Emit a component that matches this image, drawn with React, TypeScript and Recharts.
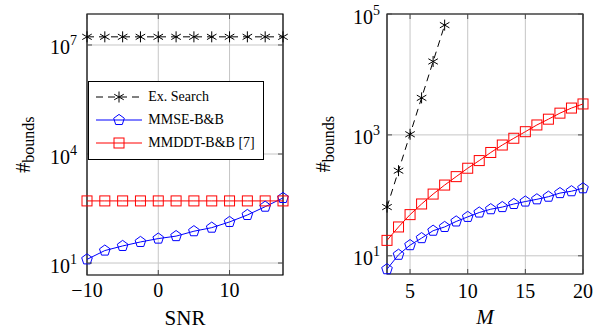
import React from 'react';
import { LineChart, Line, XAxis, YAxis, CartesianGrid, ReferenceArea, Legend } from 'recharts';

// ---- Data: left panel (vs SNR) ----
const snrValues = [-10, -7.5, -5, -2.5, 0, 2.5, 5, 7.5, 10, 12.5, 15, 17.5];
const snrExSearch = [16777216, 16777216, 16777216, 16777216, 16777216, 16777216, 16777216, 16777216, 16777216, 16777216, 16777216, 16777216];
const snrMmse = [12.6, 22, 29.5, 38, 47, 55, 75, 94, 135, 210, 355, 617];
const snrMmddt = [512, 512, 512, 512, 512, 512, 512, 512, 512, 512, 512, 512];

// ---- Data: right panel (vs M) ----
const mValues = [3, 4, 5, 6, 7, 8, 9, 10, 11, 12, 13, 14, 15, 16, 17, 18, 19, 20];
const mExSearch = [64, 256, 1024, 4096, 16384, 65536];
const mMmse = [6, 10.4, 15, 19.6, 26, 30, 37, 44, 52, 59, 64, 72, 79, 86, 95, 109, 117, 131];
const mMmddt = [18, 30, 48, 72, 105, 148, 204, 281, 376, 512, 680, 880, 1130, 1460, 1820, 2290, 2780, 3250];

// ---- Tick labels ----
const leftXTicks = [-10, 0, 10];
const leftYTicks = [10, 10000, 10000000];
const rightXTicks = [5, 10, 15, 20];
const rightYTicks = [10, 1000, 100000];

const seriesNames = ['Ex. Search', 'MMSE-B&B', 'MMDDT-B&B [7]'];

const leftData = snrValues.map((s, i) => ({ x: s, ex: snrExSearch[i], mmse: snrMmse[i], mmddt: snrMmddt[i] }));
const rightData = mValues.map((m, i) => ({ x: m, ex: i < mExSearch.length ? mExSearch[i] : null, mmse: mMmse[i], mmddt: mMmddt[i] }));

const FONT = '"Liberation Serif", "Times New Roman", serif';
const GRID = '#c6c6c6';
const TICKC = '#4a4a4a';

const Asterisk = ({ cx, cy, r = 5.5, color = '#000' }: any) => {
  const lines = [90, 30, -30].map((a) => {
    const rad = (a * Math.PI) / 180;
    const dx = r * Math.cos(rad);
    const dy = r * Math.sin(rad);
    return <line key={a} x1={cx - dx} y1={cy - dy} x2={cx + dx} y2={cy + dy} stroke={color} strokeWidth={1} />;
  });
  return <g>{lines}</g>;
};

const Pentagon = ({ cx, cy, r = 5.6, color = '#0000ff' }: any) => {
  const pts = [0, 1, 2, 3, 4]
    .map((k) => {
      const a = -Math.PI / 2 + (k * 2 * Math.PI) / 5;
      return `${cx + r * Math.cos(a)},${cy + r * Math.sin(a)}`;
    })
    .join(' ');
  return <polygon points={pts} fill="none" stroke={color} strokeWidth={1} />;
};

const Square = ({ cx, cy, s = 10, color = '#ff0000' }: any) => (
  <rect x={cx - s / 2} y={cy - s / 2} width={s} height={s} fill="none" stroke={color} strokeWidth={1} />
);

const mkDot = (Comp: any) => (props: any) => {
  const { cx, cy, index } = props;
  if (cx == null || cy == null || props.value == null || (Array.isArray(props.value) && props.value[1] == null)) {
    return <g key={`d-${index}`} />;
  }
  return (
    <g key={`d-${index}`}>
      <Comp cx={cx} cy={cy} />
    </g>
  );
};

const makeYTick = (margin: number, plotW: number) => (props: any) => {
  const { x, y, payload } = props;
  const exp = Math.round(Math.log10(payload.value));
  const edge = x + margin;
  return (
    <g>
      <line x1={edge} y1={y} x2={edge + 5} y2={y} stroke={TICKC} strokeWidth={1} />
      <line x1={edge + plotW - 5} y1={y} x2={edge + plotW} y2={y} stroke={TICKC} strokeWidth={1} />
      <text x={x} y={y} textAnchor="end" fontFamily={FONT} fontSize={20} fill="#000">
        <tspan dy={9.5}>10</tspan>
        <tspan dy={-9} fontSize={14}>{exp}</tspan>
      </text>
    </g>
  );
};

const makeXTick = (plotH: number, base: number) => (props: any) => {
  const { x, y, payload } = props;
  const v = payload.value;
  const label = v < 0 ? '\u2212' + Math.abs(v) : String(v);
  return (
    <g>
      <line x1={x} y1={y} x2={x} y2={y - 5} stroke={TICKC} strokeWidth={1} />
      <line x1={x} y1={y - plotH} x2={x} y2={y - plotH + 5} stroke={TICKC} strokeWidth={1} />
      <text x={x} y={y + base} textAnchor="middle" fontFamily={FONT} fontSize={20} fill="#000">
        {label}
      </text>
    </g>
  );
};

const YLabel = (props: any) => {
  const vb = props.viewBox || {};
  const cx = 30;
  const cy = vb.y + vb.height / 2;
  return (
    <text x={cx} y={cy} transform={`rotate(-90, ${cx}, ${cy})`} textAnchor="middle" fontFamily={FONT} fontSize={20} fill="#000">
      <tspan>#</tspan>
      <tspan dy={4} fontSize={16}>bounds</tspan>
    </text>
  );
};

const makeXLabel = (text: string, italic: boolean, base: number) => (props: any) => {
  const vb = props.viewBox || {};
  return (
    <text x={vb.x + vb.width / 2} y={vb.y + base} textAnchor="middle" fontFamily={FONT} fontSize={21} fontStyle={italic ? 'italic' : 'normal'} fill="#000">
      {text}
    </text>
  );
};

const LegendBox = () => {
  const rows = [
    { name: seriesNames[0], color: '#000', dash: '7 5', Mark: Asterisk },
    { name: seriesNames[1], color: '#0000ff', dash: undefined, Mark: Pentagon },
    { name: seriesNames[2], color: '#ff0000', dash: undefined, Mark: Square },
  ];
  const rowY = [15.3, 38.6, 61];
  return (
    <div
      style={{
        position: 'relative',
        width: 176,
        height: 79,
        boxSizing: 'border-box',
        border: '1px solid #000',
        background: '#fff',
        fontFamily: FONT,
        fontSize: 14,
        color: '#000',
      }}
    >
      {rows.map((r, i) => (
        <div key={r.name} style={{ position: 'absolute', left: 0, top: rowY[i] - 10, height: 20, width: 176 }}>
          <svg width={50} height={20} style={{ position: 'absolute', left: 7.3, top: 0, overflow: 'visible' }}>
            <line x1={0} y1={10} x2={46} y2={10} stroke={r.color} strokeWidth={1} strokeDasharray={r.dash} />
            <r.Mark cx={23} cy={10} color={r.color} />
          </svg>
          <span style={{ position: 'absolute', left: 59.6, top: 1, lineHeight: '18px', whiteSpace: 'nowrap' }}>{r.name}</span>
        </div>
      ))}
    </div>
  );
};

const LEFT_YDOM: [number, number] = [4.68, 7.13e7];
const RIGHT_YDOM: [number, number] = [5.0, 1e5];

export default function App() {
  return (
    <div style={{ position: 'absolute', left: 0, top: 0, width: 602, height: 331, background: '#fff', overflow: 'hidden' }}>
      <div style={{ position: 'absolute', left: 0, top: 0 }}>
        <LineChart width={300} height={331} data={leftData} margin={{ top: 14, right: 17, bottom: 0, left: 0 }}>
          <CartesianGrid stroke={GRID} strokeWidth={1} />
          <XAxis
            dataKey="x"
            type="number"
            domain={[-10, 17.5]}
            ticks={leftXTicks}
            height={56}
            tickSize={0}
            tickMargin={0}
            axisLine={false}
            tick={makeXTick(261, 22)}
            label={{ content: makeXLabel('SNR', false, 50) }}
          />
          <YAxis
            type="number"
            scale="log"
            domain={LEFT_YDOM}
            ticks={leftYTicks}
            width={87}
            tickSize={0}
            tickMargin={10}
            axisLine={false}
            tick={makeYTick(10, 196)}
            label={{ content: YLabel }}
          />
          <ReferenceArea x1={-10} x2={17.5} y1={LEFT_YDOM[0]} y2={LEFT_YDOM[1]} fill="none" stroke="#000" strokeWidth={1.2} ifOverflow="visible" />
          <Line dataKey="ex" name={seriesNames[0]} stroke="#000" strokeWidth={1} strokeDasharray="7 5" dot={mkDot(Asterisk)} isAnimationActive={false} />
          <Line dataKey="mmse" name={seriesNames[1]} stroke="#0000ff" strokeWidth={1} dot={mkDot(Pentagon)} isAnimationActive={false} />
          <Line dataKey="mmddt" name={seriesNames[2]} stroke="#ff0000" strokeWidth={1} dot={mkDot(Square)} isAnimationActive={false} />
          <Legend
            layout="vertical"
            align="center"
            verticalAlign="middle"
            content={() => <LegendBox />}
            wrapperStyle={{ position: 'absolute', left: 87.7, top: 80.7, width: 176, height: 79 }}
          />
        </LineChart>
      </div>
      <div style={{ position: 'absolute', left: 300, top: 0 }}>
        <LineChart width={302} height={331} data={rightData} margin={{ top: 14, right: 19, bottom: 0, left: 0 }}>
          <CartesianGrid stroke={GRID} strokeWidth={1} />
          <XAxis
            dataKey="x"
            type="number"
            domain={[3, 20]}
            ticks={rightXTicks}
            height={57}
            tickSize={0}
            tickMargin={0}
            axisLine={false}
            tick={makeXTick(260, 24)}
            label={{ content: makeXLabel('M', true, 50) }}
          />
          <YAxis
            type="number"
            scale="log"
            domain={RIGHT_YDOM}
            ticks={rightYTicks}
            width={87}
            tickSize={0}
            tickMargin={7}
            axisLine={false}
            tick={makeYTick(7, 196)}
            label={{ content: YLabel }}
          />
          <ReferenceArea x1={3} x2={20} y1={RIGHT_YDOM[0]} y2={RIGHT_YDOM[1]} fill="none" stroke="#000" strokeWidth={1.2} ifOverflow="visible" />
          <Line dataKey="ex" name={seriesNames[0]} stroke="#000" strokeWidth={1} strokeDasharray="7 5" dot={mkDot(Asterisk)} isAnimationActive={false} connectNulls={false} />
          <Line dataKey="mmse" name={seriesNames[1]} stroke="#0000ff" strokeWidth={1} dot={mkDot(Pentagon)} isAnimationActive={false} />
          <Line dataKey="mmddt" name={seriesNames[2]} stroke="#ff0000" strokeWidth={1} dot={mkDot(Square)} isAnimationActive={false} />
        </LineChart>
      </div>
    </div>
  );
}
